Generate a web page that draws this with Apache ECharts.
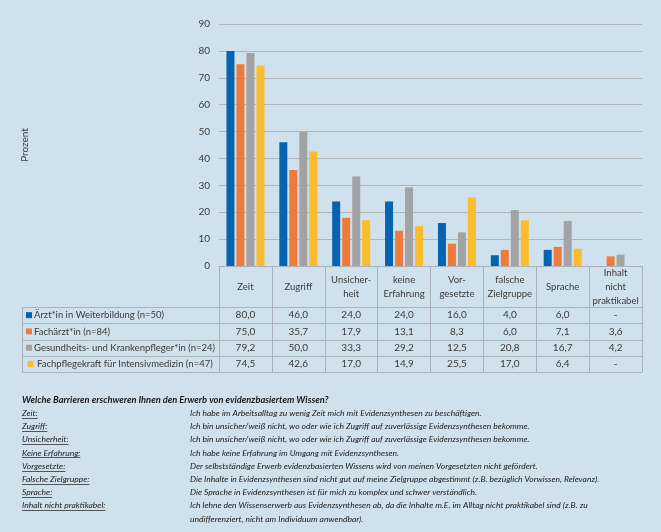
<!DOCTYPE html>
<html><head><meta charset="utf-8">
<script src="https://cdn.jsdelivr.net/npm/echarts@6/dist/echarts.min.js"></script>
<style>html,body{margin:0;padding:0;background:#cfe1ed;} #c{width:661px;height:532px;}</style>
</head><body><div id="c"></div>
<script>
// ---------- DATA ----------
const categories = ['Zeit', 'Zugriff', 'Unsicher-\nheit', 'keine\nErfahrung', 'Vor-\ngesetzte', 'falsche\nZielgruppe', 'Sprache', 'Inhalt\nnicht\npraktikabel'];
const seriesNames = ['Ärzt*in in Weiterbildung (n=50)', 'Fachärzt*in (n=84)', 'Gesundheits- und Krankenpfleger*in (n=24)', 'Fachpflegekraft für Intensivmedizin (n=47)'];
const aerztWB   = [80.0, 46.0, 24.0, 24.0, 16.0, 4.0, 6.0, null];
const fachaerzt = [75.0, 35.7, 17.9, 13.1, 8.3, 6.0, 7.1, 3.6];
const pflege    = [79.2, 50.0, 33.3, 29.2, 12.5, 20.8, 16.7, 4.2];
const intensiv  = [74.5, 42.6, 17.0, 14.9, 25.5, 17.0, 6.4, null];
const yMin = 0, yMax = 90, yStep = 10;
const yAxisName = 'Prozent';
const questionTitle = 'Welche Barrieren erschweren Ihnen den Erwerb von evidenzbasiertem Wissen?';
const termLabels = ['Zeit:', 'Zugriff:', 'Unsicherheit:', 'Keine Erfahrung:', 'Vorgesetzte:', 'Falsche Zielgruppe:', 'Sprache:', 'Inhalt nicht praktikabel:'];
const termTexts = [
  'Ich habe im Arbeitsalltag zu wenig Zeit mich mit Evidenzsynthesen zu beschäftigen.',
  'Ich bin unsicher/weiß nicht, wo oder wie ich Zugriff auf zuverlässige Evidenzsynthesen bekomme.',
  'Ich bin unsicher/weiß nicht, wo oder wie ich Zugriff auf zuverlässige Evidenzsynthesen bekomme.',
  'Ich habe keine Erfahrung im Umgang mit Evidenzsynthesen.',
  'Der selbstständige Erwerb evidenzbasierten Wissens wird von meinen Vorgesetzten nicht gefördert.',
  'Die Inhalte in Evidenzsynthesen sind nicht gut auf meine Zielgruppe abgestimmt (z.B. bezüglich Vorwissen, Relevanz).',
  'Die Sprache in Evidenzsynthesen ist für mich zu komplex und schwer verständlich.',
  'Ich lehne den Wissenserwerb aus Evidenzsynthesen ab, da die Inhalte m.E. im Alltag nicht praktikabel sind (z.B. zu\nundifferenziert, nicht am Individuum anwendbar).'
];

// ---------- STYLE / LAYOUT ----------
const colors = ['#0563af', '#ee7b3c', '#a3a3a3', '#fcbd2c'];
const rows = [aerztWB, fachaerzt, pflege, intensiv];
const FONT = 'Lato, "Open Sans", sans-serif';
const textColor = '#3a3a3a';
const lineColor = '#a9b1b9';
const G = { left: 219, right: 19, top: 24, bottom: 266 };
const axisY = 532 - G.bottom;
const headerH = 41;
const rowH = 16.3;
const tableLeft = 22;
const tableRight = 661 - G.right;
const fmt = v => v == null ? '-' : v.toFixed(1).replace('.', ',');

const xAxes = [{
  type: 'category', data: categories, gridIndex: 0, position: 'bottom',
  axisLine: { show: true, lineStyle: { color: lineColor, width: 1 } },
  axisTick: { show: true, length: headerH + rowH * 4, lineStyle: { color: lineColor, width: 1 } },
  axisLabel: { interval: 0, margin: headerH / 2, verticalAlign: 'middle', lineHeight: 14,
    fontSize: 9.5, fontFamily: FONT, color: textColor },
  splitLine: { show: false }
}];
rows.forEach((r, k) => {
  xAxes.push({
    type: 'category', data: categories, gridIndex: 0, position: 'bottom',
    axisLine: { show: false }, axisTick: { show: false }, splitLine: { show: false },
    axisLabel: { interval: 0, margin: headerH + rowH * k + rowH / 2, verticalAlign: 'middle',
      fontSize: 10, fontFamily: FONT, color: textColor,
      formatter: (v, i) => fmt(r[i]) }
  });
});

const graphic = [];
// table horizontal lines
for (let k = 0; k <= 4; k++) {
  const y = Math.round(axisY + headerH + rowH * k) + 0.5;
  graphic.push({ type: 'line', shape: { x1: tableLeft, y1: y, x2: tableRight, y2: y },
    style: { stroke: lineColor, lineWidth: 1 }, silent: true });
}
graphic.push({ type: 'line', shape: { x1: tableLeft + 0.5, y1: Math.round(axisY + headerH) + 0.5, x2: tableLeft + 0.5, y2: Math.round(axisY + headerH + rowH * 4) + 0.5 },
  style: { stroke: lineColor, lineWidth: 1 }, silent: true });
// legend column
seriesNames.forEach((n, k) => {
  const cy = axisY + headerH + rowH * k + rowH / 2;
  const extra = k === 3 ? 1.5 : 0;
  graphic.push({ type: 'rect', shape: { x: tableLeft + 4 + extra, y: cy - 3, width: 6, height: 6 },
    style: { fill: colors[k] }, silent: true });
  graphic.push({ type: 'text', x: tableLeft + 12 + extra * 2, y: cy,
    style: { text: n, font: '9.5px ' + FONT, fill: textColor, align: 'left', verticalAlign: 'middle' }, silent: true });
});

// explanation block
const measure = (() => { const c = document.createElement('canvas').getContext('2d'); return (t, f) => { c.font = f; return c.measureText(t).width; }; })();
const descFont = 'italic 8.5px ' + FONT;
const titleFont = 'italic bold 9.3px ' + FONT;
const textX = 190, lineStep = 13.2;
let y0 = 400;
graphic.push({ type: 'text', x: tableLeft, y: y0,
  style: { text: questionTitle, font: titleFont, fill: '#1a1a1a', align: 'left', verticalAlign: 'middle' }, silent: true });
termLabels.forEach((lab, i) => {
  const cy = y0 + lineStep * (i + 1);
  graphic.push({ type: 'text', x: tableLeft, y: cy,
    style: { text: lab, font: descFont, fill: '#1a1a1a', align: 'left', verticalAlign: 'middle' }, silent: true });
  const w = measure(lab, descFont);
  const uy = Math.round(cy + 4.5) + 0.5;
  graphic.push({ type: 'line', shape: { x1: tableLeft, y1: uy, x2: tableLeft + w, y2: uy },
    style: { stroke: '#1a1a1a', lineWidth: 0.7 }, silent: true });
  termTexts[i].split('\n').forEach((ln, j) => {
    graphic.push({ type: 'text', x: textX, y: cy + lineStep * j,
      style: { text: ln, font: descFont, fill: '#1a1a1a', align: 'left', verticalAlign: 'middle' }, silent: true });
  });
});

const chart = echarts.init(document.getElementById('c'), null, { renderer: 'canvas' });
chart.setOption({
  backgroundColor: '#cfe1ed',
  animation: false,
  color: colors,
  grid: { left: G.left, right: G.right, top: G.top, bottom: G.bottom, containLabel: false },
  xAxis: xAxes,
  yAxis: {
    type: 'value', min: yMin, max: yMax, interval: yStep,
    name: yAxisName, nameLocation: 'middle', nameGap: G.left - 30, nameRotate: 90,
    nameTextStyle: { fontSize: 10, fontFamily: FONT, color: textColor },
    axisLine: { show: false }, axisTick: { show: false },
    axisLabel: { fontSize: 10, fontFamily: FONT, color: textColor, margin: 9 },
    splitLine: { lineStyle: { color: '#b0b5ba', width: 1 } }
  },
  series: rows.map((r, k) => ({
    type: 'bar', name: seriesNames[k], data: r, xAxisIndex: 0,
    barWidth: 8, barGap: '25%', itemStyle: { color: colors[k] }
  })),
  graphic: graphic
});
</script>
</body></html>
